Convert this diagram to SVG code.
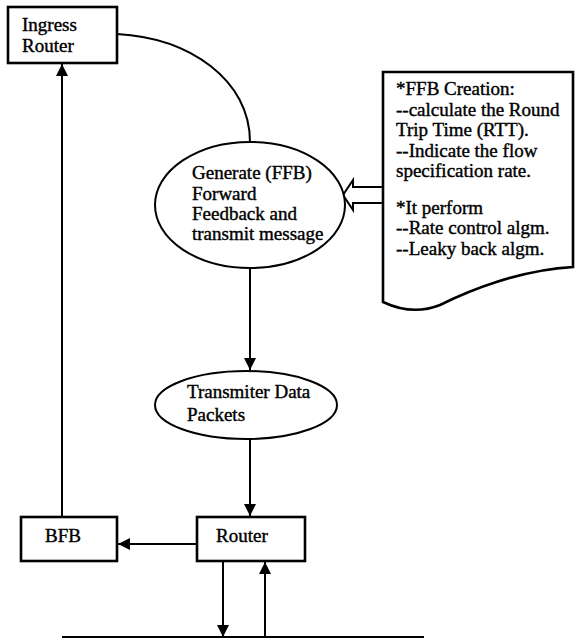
<svg xmlns="http://www.w3.org/2000/svg" width="579" height="641" viewBox="0 0 579 641">
<defs>
<style>
.box{fill:#fff;stroke:#000;stroke-width:2.6}
.ell{fill:#fff;stroke:#000;stroke-width:2}
.t{font-family:"Liberation Serif","Times New Roman",serif;font-size:19px;fill:#000;stroke:#000;stroke-width:0.4}
.ln{fill:none;stroke:#000;stroke-width:2}
</style>
<marker id="ah" viewBox="0 0 12 12" refX="12" refY="6" markerWidth="12" markerHeight="12" markerUnits="userSpaceOnUse" orient="auto">
<path d="M0,0 L12,6 L0,12 Z" fill="#000"/>
</marker>
</defs>
<rect width="579" height="641" fill="#fff"/>
<g id="connectors">
<path class="ln" d="M117,34 C190,38 250,80 250,142"/>
<path class="ln" d="M62,517 V64" marker-end="url(#ah)"/>
<path class="ln" d="M250,268 V370" marker-end="url(#ah)"/>
<path class="ln" d="M250,438 V516" marker-end="url(#ah)"/>
<path class="ln" d="M197,544 H118" marker-end="url(#ah)"/>
<path class="ln" d="M223,561 V637" marker-end="url(#ah)"/>
<path class="ln" d="M265,637 V562" marker-end="url(#ah)"/>
<path class="ln" d="M62,637 H424"/>
<polygon points="383,187 353,187 353,180 343,195 353,210 353,203 383,203" fill="#fff" stroke="#000" stroke-width="2"/>
</g>
<g id="ingress">
<rect class="box" x="8" y="7" width="109" height="56"/>
<text class="t" x="22" y="31">Ingress</text>
<text class="t" x="22" y="52">Router</text>
</g>
<g id="generate">
<ellipse class="ell" cx="250" cy="205" rx="95" ry="63"/>
<text class="t" x="192" y="179">Generate (FFB)</text>
<text class="t" x="192" y="200">Forward</text>
<text class="t" x="192" y="220">Feedback and</text>
<text class="t" x="192" y="240">transmit message</text>
</g>
<g id="doc">
<path class="box" d="M383,72 H573 V267 C520,270 470,290 440,305 C420,313 400,310 383,302 Z" stroke-width="2"/>
<text class="t" x="396" y="95">*FFB Creation:</text>
<text class="t" x="396" y="116">--calculate the Round</text>
<text class="t" x="396" y="136">Trip Time (RTT).</text>
<text class="t" x="396" y="157">--Indicate the flow</text>
<text class="t" x="396" y="177">specification rate.</text>
<text class="t" x="396" y="214">*It perform</text>
<text class="t" x="396" y="234">--Rate control algm.</text>
<text class="t" x="396" y="255">--Leaky back algm.</text>
</g>
<g id="transmiter">
<ellipse class="ell" cx="246" cy="405" rx="91" ry="34"/>
<text class="t" x="187" y="398">Transmiter Data</text>
<text class="t" x="187" y="421">Packets</text>
</g>
<g id="router">
<rect class="box" x="197" y="517" width="108" height="44"/>
<text class="t" x="216" y="542">Router</text>
</g>
<g id="bfb">
<rect class="box" x="21" y="517" width="96" height="44"/>
<text class="t" x="45" y="542">BFB</text>
</g>
</svg>
